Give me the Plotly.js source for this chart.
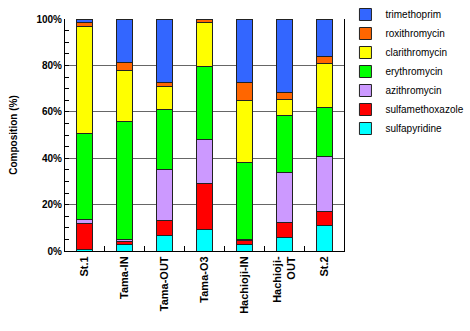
<!DOCTYPE html>
<html>
<head>
<meta charset="utf-8">
<script src="https://cdn.plot.ly/plotly-3.0.1.min.js"></script>
<style>html,body{margin:0;padding:0;background:#fff;}#chart{width:470px;height:331px;}</style>
</head>
<body>
<div id="chart"></div>
<script>
const categories = ["St.1", "Tama-IN", "Tama-OUT", "Tama-O3", "Hachioji-IN", "Hachioji-<br>OUT", "St.2"];
const sulfapyridine    = [0.7, 3.0, 6.5, 9.3, 2.6, 5.9, 10.8];
const sulfamethoxazole = [11.0, 1.2, 6.5, 19.7, 2.0, 6.3, 6.4];
const azithromycin     = [1.8, 0.8, 22.0, 19.0, 0.4, 21.6, 23.4];
const erythromycin     = [37.0, 51.0, 26.0, 31.4, 33.2, 24.4, 21.4];
const clarithromycin   = [46.3, 21.6, 9.8, 19.2, 26.8, 7.2, 19.0];
const roxithromycin    = [1.7, 3.7, 1.9, 1.4, 7.7, 2.8, 3.0];
const trimethoprim     = [1.5, 18.7, 27.3, 0.0, 27.3, 31.8, 16.0];
const yTicks = [0, 20, 40, 60, 80, 100];

const series = [
  ["sulfapyridine", sulfapyridine, "#00FFFF"],
  ["sulfamethoxazole", sulfamethoxazole, "#FF0000"],
  ["azithromycin", azithromycin, "#CC99FF"],
  ["erythromycin", erythromycin, "#00FF00"],
  ["clarithromycin", clarithromycin, "#FFFF00"],
  ["roxithromycin", roxithromycin, "#FF6600"],
  ["trimethoprim", trimethoprim, "#3366FF"]
];

const traces = series.map(([name, vals, color]) => ({
  type: "bar",
  name: name,
  x: categories,
  y: vals,
  marker: {color: color, line: {color: "#222", width: 1}}
}));

const layout = {
  width: 470, height: 331,
  margin: {l: 65, r: 126, t: 19, b: 80, autoexpand: false},
  paper_bgcolor: "#fff", plot_bgcolor: "#fff",
  barmode: "stack",
  bargap: 0.6,
  showlegend: true,
  font: {family: "Arial, Liberation Sans, sans-serif", color: "#000", size: 10},
  legend: {
    traceorder: "reversed",
    tracegroupgap: 0,
    xref: "container", yref: "container",
    x: 0.735, xanchor: "left", y: 1.0, yanchor: "top",
    font: {size: 10, family: "Arial, Liberation Sans, sans-serif"},
    itemwidth: 30, bgcolor: "rgba(0,0,0,0)"
  },
  xaxis: {
    type: "category",
    tickangle: -90,
    tickfont: {size: 11, weight: "bold"},
    ticks: "inside", tickson: "boundaries", ticklen: 5, tickcolor: "#000",
    showline: true, linecolor: "#000", linewidth: 1, mirror: false,
    showgrid: false
  },
  yaxis: {
    range: [0, 100],
    tickvals: yTicks,
    ticktext: yTicks.map(v => v + "%"),
    tickfont: {size: 10, weight: "bold"},
    ticks: "inside", ticklen: 4, tickcolor: "#000",
    minor: {dtick: 5, ticks: "inside", ticklen: 4, tickcolor: "#000", showgrid: false},
    showgrid: true, gridcolor: "#666", gridwidth: 1,
    showline: true, linecolor: "#000", linewidth: 1, mirror: true,
    zeroline: false,
    title: {text: "Composition (%)", font: {size: 10, weight: "bold"}, standoff: 16}
  }
};

Plotly.newPlot("chart", traces, layout, {displayModeBar: false, staticPlot: true});
</script>
</body>
</html>
